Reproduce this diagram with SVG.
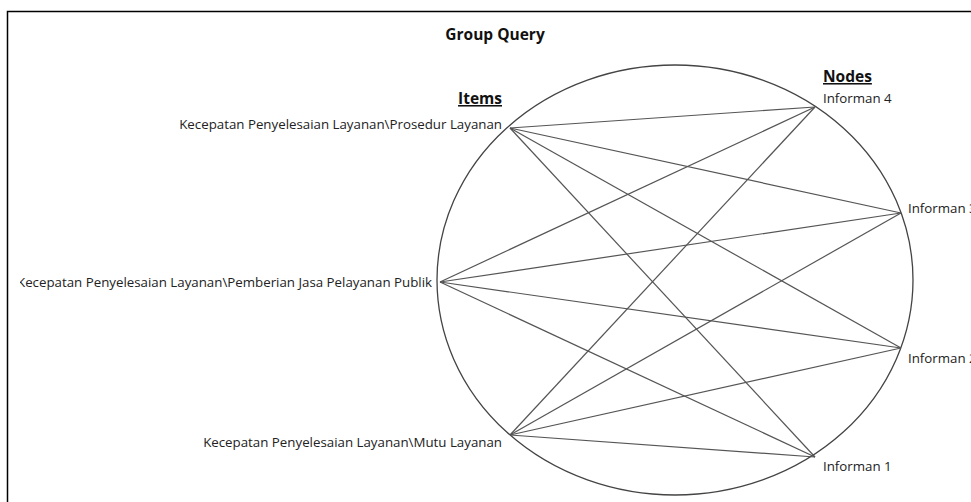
<svg xmlns="http://www.w3.org/2000/svg" width="971" height="502" viewBox="0 0 971 502">
<style>
.t{font-family:"Open Sans","Noto Sans",sans-serif;font-size:13.3px;fill:#222}
.h{font-family:"Open Sans","Noto Sans",sans-serif;font-size:15.5px;font-weight:bold;fill:#111}
.u{text-decoration:underline}
.e{stroke:#555;stroke-width:1.2;fill:none}
</style>
<defs>
<clipPath id="clip"><rect x="20" y="12" width="960" height="490"/></clipPath>
</defs>
<rect width="971" height="502" fill="#fff"/>
<rect x="7.5" y="11.5" width="1000" height="520" fill="none" stroke="#000" stroke-width="1.5"/>
<text class="h" x="495" y="40" text-anchor="middle">Group Query</text>
<ellipse cx="675" cy="280" rx="238" ry="215" fill="none" stroke="#444" stroke-width="1.3"/>
<g id="connectors">
<line class="e" x1="510" y1="128" x2="815" y2="107"/>
<line class="e" x1="510" y1="128" x2="901" y2="213"/>
<line class="e" x1="510" y1="128" x2="901" y2="348"/>
<line class="e" x1="510" y1="128" x2="815" y2="457"/>
<line class="e" x1="440" y1="282" x2="815" y2="107"/>
<line class="e" x1="440" y1="282" x2="901" y2="213"/>
<line class="e" x1="440" y1="282" x2="901" y2="348"/>
<line class="e" x1="440" y1="282" x2="815" y2="457"/>
<line class="e" x1="510" y1="435" x2="815" y2="107"/>
<line class="e" x1="510" y1="435" x2="901" y2="213"/>
<line class="e" x1="510" y1="435" x2="901" y2="348"/>
<line class="e" x1="510" y1="435" x2="815" y2="457"/>
</g>
<g id="items-header"><text class="h u" x="502" y="104" text-anchor="end">Items</text></g>
<g id="nodes-header"><text class="h u" x="823" y="82">Nodes</text></g>
<g id="item-prosedur"><text class="t" x="502" y="129" text-anchor="end">Kecepatan Penyelesaian Layanan\Prosedur Layanan</text></g>
<g id="item-pemberian" clip-path="url(#clip)"><text class="t" x="432" y="287" text-anchor="end">Kecepatan Penyelesaian Layanan\Pemberian Jasa Pelayanan Publik</text></g>
<g id="item-mutu"><text class="t" x="502" y="447" text-anchor="end">Kecepatan Penyelesaian Layanan\Mutu Layanan</text></g>
<g id="informan-4"><text class="t" x="823" y="103">Informan 4</text></g>
<g id="informan-3"><text class="t" x="908" y="213">Informan 3</text></g>
<g id="informan-2"><text class="t" x="908" y="363">Informan 2</text></g>
<g id="informan-1"><text class="t" x="823" y="471">Informan 1</text></g>
</svg>
